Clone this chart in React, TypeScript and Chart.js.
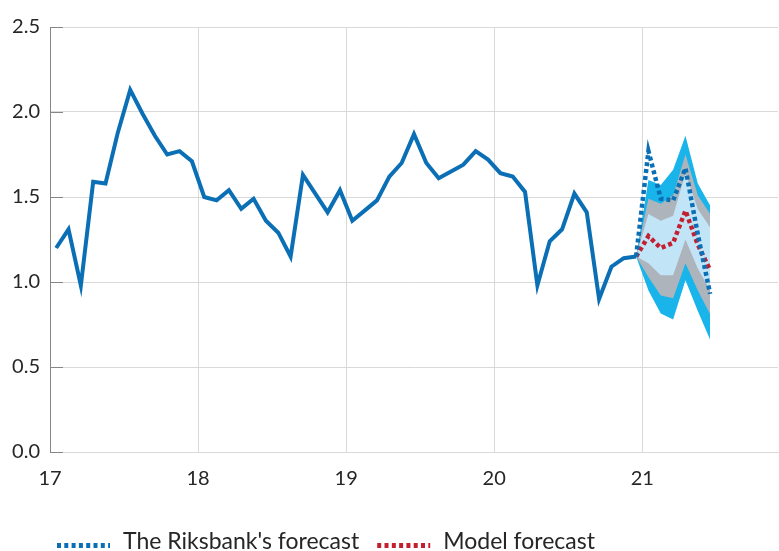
import React, { useEffect, useRef } from 'react';
import { Chart, registerables } from 'chart.js';

Chart.register(...registerables);

// ---- Data (monthly, Jan 2017 - Dec 2020) ----
const historyValues = [
  1.2, 1.31, 0.98, 1.59, 1.58, 1.88, 2.13, 1.99, 1.86, 1.75, 1.77, 1.71,
  1.5, 1.48, 1.54, 1.43, 1.49, 1.36, 1.29, 1.15, 1.63, 1.52, 1.41, 1.54,
  1.36, 1.42, 1.48, 1.62, 1.7, 1.87, 1.7, 1.61, 1.65, 1.69, 1.77, 1.72,
  1.64, 1.62, 1.53, 0.98, 1.24, 1.31, 1.52, 1.41, 0.9, 1.09, 1.14, 1.15,
];

// ---- Forecasts (Dec 2020 - Jun 2021) ----
const riksbankForecast = [1.15, 1.77, 1.49, 1.48, 1.67, 1.28, 0.93];
const modelForecast = [1.15, 1.27, 1.2, 1.23, 1.42, 1.22, 1.07];

// ---- Uncertainty bands around the model forecast ----
const band90Upper = [1.15, 1.6, 1.57, 1.66, 1.86, 1.58, 1.45];
const band75Upper = [1.15, 1.49, 1.46, 1.51, 1.75, 1.51, 1.4];
const band50Upper = [1.15, 1.4, 1.36, 1.39, 1.64, 1.43, 1.32];
const band50Lower = [1.15, 1.11, 1.04, 1.04, 1.25, 1.08, 0.95];
const band75Lower = [1.15, 1.03, 0.92, 0.905, 1.11, 0.95, 0.81];
const band90Lower = [1.15, 0.95, 0.815, 0.78, 1.01, 0.83, 0.66];

const xTickLabels = ['17', '18', '19', '20', '21'];
const yTickLabels = ['0.0', '0.5', '1.0', '1.5', '2.0', '2.5'];
const legendLabels = ["The Riksbank's forecast", 'Model forecast'];

const START_YEAR = 17;
const FORECAST_START_INDEX = 47; // Dec 2020
const monthToX = (i: number) => START_YEAR + (i + 0.5) / 12;

const toPoints = (vals: number[], offset: number) =>
  vals.map((v, i) => ({ x: monthToX(offset + i), y: v }));

const BLUE = '#0b6fb6';
const RED = '#c41f30';
const CYAN = '#18b4ea';
const GREY = '#adb4bc';
const LIGHT = '#c2e4f7';
const GRID = '#d9d9d9';
const AXIS = '#868686';
const TEXT = '#262626';
const FONT = 'Lato';

const innerTicksPlugin = {
  id: 'innerTicks',
  beforeDatasetsDraw(chart: any) {
    const { ctx, chartArea, scales } = chart;
    const y = scales.y;
    ctx.save();
    ctx.strokeStyle = AXIS;
    ctx.lineWidth = 1;
    y.ticks.forEach((t: any) => {
      const py = Math.round(y.getPixelForValue(t.value)) + 0.5;
      ctx.beginPath();
      ctx.moveTo(chartArea.left, py);
      ctx.lineTo(chartArea.left + 13, py);
      ctx.stroke();
    });
    ctx.restore();
  },
};

const legendPlugin = {
  id: 'customLegend',
  afterDraw(chart: any) {
    const { ctx } = chart;
    const items = [
      { text: legendLabels[0], color: BLUE },
      { text: legendLabels[1], color: RED },
    ];
    ctx.save();
    ctx.font = `23px ${FONT}`;
    ctx.fillStyle = TEXT;
    ctx.textBaseline = 'alphabetic';
    let x = 57;
    const lineY = 545.5;
    items.forEach((it) => {
      ctx.save();
      ctx.strokeStyle = it.color;
      ctx.lineWidth = 5;
      ctx.setLineDash([4, 3.3]);
      ctx.beginPath();
      ctx.moveTo(x, lineY);
      ctx.lineTo(x + 53, lineY);
      ctx.stroke();
      ctx.restore();
      x += 53 + 13;
      ctx.fillText(it.text, x, 549);
      x += ctx.measureText(it.text).width + 18;
    });
    ctx.restore();
  },
};

export default function App() {
  const canvasRef = useRef<HTMLCanvasElement | null>(null);

  useEffect(() => {
    if (!canvasRef.current) return;
    const band = (data: number[], fill: any, color: string) => ({
      data: toPoints(data, FORECAST_START_INDEX),
      borderWidth: 0,
      borderColor: 'rgba(0,0,0,0)',
      backgroundColor: color,
      pointRadius: 0,
      fill,
      tension: 0,
    });
    const chart = new Chart(canvasRef.current, {
      type: 'line',
      data: {
        datasets: [
          {
            data: toPoints(historyValues, 0),
            borderColor: BLUE,
            borderWidth: 4,
            pointRadius: 0,
            fill: false,
            borderJoinStyle: 'miter',
          },
          {
            data: toPoints(riksbankForecast, FORECAST_START_INDEX),
            borderColor: BLUE,
            borderWidth: 4.5,
            borderDash: [4, 3],
            pointRadius: 0,
            fill: false,
          },
          {
            data: toPoints(modelForecast, FORECAST_START_INDEX),
            borderColor: RED,
            borderWidth: 4.5,
            borderDash: [4, 3],
            pointRadius: 0,
            fill: false,
          },
          band(band50Upper, '+1', LIGHT),
          band(band50Lower, false, LIGHT),
          band(band75Upper, '+1', GREY),
          band(band75Lower, false, GREY),
          band(band90Upper, '+1', CYAN),
          band(band90Lower, false, CYAN),
        ] as any,
      },
      options: {
        animation: false,
        responsive: false,
        devicePixelRatio: 1,
        layout: { padding: { top: 27, right: 1, left: 0, bottom: 0 } },
        plugins: {
          legend: { display: false },
          tooltip: { enabled: false },
          filler: { drawTime: 'beforeDatasetsDraw' },
        } as any,
        scales: {
          x: {
            type: 'linear',
            min: 17,
            max: 21 + 11 / 12,
            ticks: {
              stepSize: 1,
              includeBounds: false,
              autoSkip: false,
              maxRotation: 0,
              padding: 15,
              color: TEXT,
              font: { family: FONT, size: 20 },
              callback: (v: any) => xTickLabels[Math.round(v) - START_YEAR] ?? '',
            },
            grid: {
              drawTicks: false,
              color: (c: any) => (c.tick && c.tick.value === 17 ? 'rgba(0,0,0,0)' : GRID),
            },
            border: { color: GRID, width: 1 },
            afterFit: (s: any) => {
              s.height = 99;
            },
          },
          y: {
            min: 0,
            max: 2.5,
            ticks: {
              stepSize: 0.5,
              padding: 10,
              color: TEXT,
              font: { family: FONT, size: 20 },
              callback: (v: any) => yTickLabels[Math.round(v / 0.5)] ?? '',
            },
            grid: { drawTicks: false, color: GRID },
            border: { color: AXIS, width: 1 },
            afterFit: (s: any) => {
              s.width = 50;
            },
          },
        },
      } as any,
      plugins: [innerTicksPlugin, legendPlugin],
    });
    return () => chart.destroy();
  }, []);

  return (
    <div style={{ position: 'fixed', left: 0, top: 0, width: 779, height: 551, background: '#fff' }}>
      <canvas ref={canvasRef} width={779} height={551} style={{ display: 'block' }} />
    </div>
  );
}
